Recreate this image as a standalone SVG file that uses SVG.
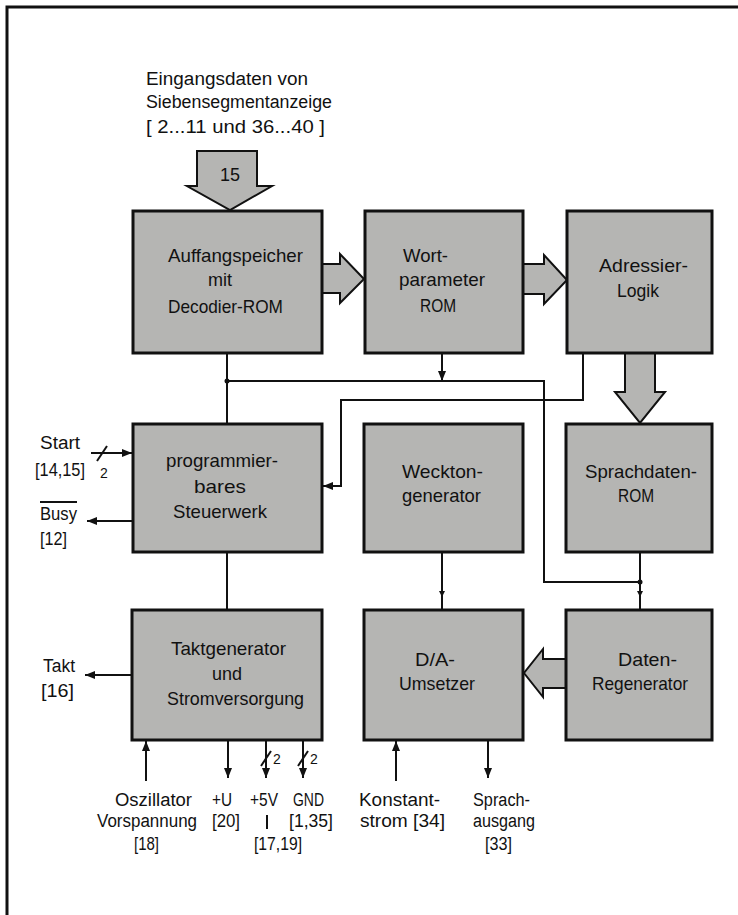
<svg xmlns="http://www.w3.org/2000/svg" width="738" height="915" viewBox="0 0 738 915">
<style>
.blk{fill:#b5b5b3;stroke:#111;stroke-width:3}
.harr{fill:#b5b5b3;stroke:#111;stroke-width:2;stroke-linejoin:miter}
.ln{fill:none;stroke:#111;stroke-width:2}
.t{font-family:"Liberation Sans",Arial,sans-serif;font-size:19px;fill:#111}
.l{font-family:"Liberation Sans",Arial,sans-serif;font-size:18px;fill:#111}
.s{font-family:"Liberation Sans",Arial,sans-serif;font-size:14px;fill:#111}
</style>
<defs>
<marker id="ah" viewBox="0 0 10 8" refX="10" refY="4" markerWidth="10" markerHeight="8" markerUnits="userSpaceOnUse" orient="auto">
<path d="M0,0 L10,4 L0,8 Z" fill="#111"/>
</marker>
<marker id="sm" viewBox="0 0 6 6" refX="6" refY="3" markerWidth="6" markerHeight="6" markerUnits="userSpaceOnUse" orient="auto">
<path d="M0,0 L6,3 L0,6 Z" fill="#111"/>
</marker>
</defs>
<rect width="738" height="915" fill="#fff"/>
<g id="border" class="ln" style="stroke-width:3">
<path d="M7,915 V7 H738"/>
</g>

<g id="input-label">
<text class="l" x="146" y="85" textLength="162" lengthAdjust="spacingAndGlyphs">Eingangsdaten von</text>
<text class="l" x="146" y="108" textLength="186" lengthAdjust="spacingAndGlyphs">Siebensegmentanzeige</text>
<text class="l" x="146" y="133" textLength="179" lengthAdjust="spacingAndGlyphs">[ 2...11 und 36...40 ]</text>
</g>

<g id="bus-arrows">
<polygon class="harr" points="197,151 257,151 257,186 272,186 230,210 187,186 197,186"/>
<text class="l" x="230" y="181" text-anchor="middle" font-size="17">15</text>
<polygon class="harr" points="322,264 340,264 340,254 364,279 340,303 340,293 322,293"/>
<polygon class="harr" points="523,264 544,264 544,255 567,280 544,304 544,294 523,294"/>
<polygon class="harr" points="625,353 655,353 655,392 665,392 640,423 615,392 625,392"/>
<polygon class="harr" points="566,659 543,659 543,649 524,673 543,697 543,688 566,688"/>
</g>

<g id="auffangspeicher">
<rect class="blk" x="133" y="211" width="189" height="142"/>
<text class="t" x="168" y="262" textLength="135" lengthAdjust="spacingAndGlyphs">Auffangspeicher</text>
<text class="t" x="208" y="286" textLength="24" lengthAdjust="spacingAndGlyphs">mit</text>
<text class="t" x="168" y="313" textLength="115" lengthAdjust="spacingAndGlyphs">Decodier-ROM</text>
</g>
<g id="wortparameter">
<rect class="blk" x="365" y="211" width="158" height="142"/>
<text class="t" x="403" y="262" textLength="45" lengthAdjust="spacingAndGlyphs">Wort-</text>
<text class="t" x="399" y="286" textLength="86" lengthAdjust="spacingAndGlyphs">parameter</text>
<text class="t" x="420" y="312" textLength="36" lengthAdjust="spacingAndGlyphs">ROM</text>
</g>
<g id="adressier">
<rect class="blk" x="567" y="211" width="145" height="142"/>
<text class="t" x="599" y="272" textLength="89" lengthAdjust="spacingAndGlyphs">Adressier-</text>
<text class="t" x="617" y="297" textLength="42" lengthAdjust="spacingAndGlyphs">Logik</text>
</g>
<g id="steuerwerk">
<rect class="blk" x="133" y="424" width="189" height="128"/>
<text class="t" x="166" y="467" textLength="112" lengthAdjust="spacingAndGlyphs">programmier-</text>
<text class="t" x="194" y="493" textLength="52" lengthAdjust="spacingAndGlyphs">bares</text>
<text class="t" x="173" y="518" textLength="94" lengthAdjust="spacingAndGlyphs">Steuerwerk</text>
</g>
<g id="weckton">
<rect class="blk" x="364" y="424" width="159" height="128"/>
<text class="t" x="402" y="478" textLength="81" lengthAdjust="spacingAndGlyphs">Weckton-</text>
<text class="t" x="402" y="502" textLength="79" lengthAdjust="spacingAndGlyphs">generator</text>
</g>
<g id="sprachdaten">
<rect class="blk" x="566" y="424" width="146" height="128"/>
<text class="t" x="585" y="478" textLength="112" lengthAdjust="spacingAndGlyphs">Sprachdaten-</text>
<text class="t" x="618" y="502" textLength="36" lengthAdjust="spacingAndGlyphs">ROM</text>
</g>
<g id="taktgenerator">
<rect class="blk" x="132" y="610" width="190" height="130"/>
<text class="t" x="171" y="655" textLength="115" lengthAdjust="spacingAndGlyphs">Taktgenerator</text>
<text class="t" x="212" y="680" textLength="30" lengthAdjust="spacingAndGlyphs">und</text>
<text class="t" x="167" y="705" textLength="137" lengthAdjust="spacingAndGlyphs">Stromversorgung</text>
</g>
<g id="da-umsetzer">
<rect class="blk" x="364" y="610" width="159" height="130"/>
<text class="t" x="415" y="666" textLength="40" lengthAdjust="spacingAndGlyphs">D/A-</text>
<text class="t" x="399" y="690" textLength="76" lengthAdjust="spacingAndGlyphs">Umsetzer</text>
</g>
<g id="datenregenerator">
<rect class="blk" x="566" y="610" width="146" height="130"/>
<text class="t" x="618" y="666" textLength="59" lengthAdjust="spacingAndGlyphs">Daten-</text>
<text class="t" x="592" y="690" textLength="96" lengthAdjust="spacingAndGlyphs">Regenerator</text>
</g>

<g id="connectors" class="ln">
<path d="M227,353 V424"/>
<path d="M442,353 V381" marker-end="url(#ah)"/>
<path d="M227,381 H544 V582 H640"/>
<path d="M640,552 V597" marker-end="url(#sm)"/>
<path d="M640,595 V610"/>
<path d="M583,353 V400 H341 V486 H323" marker-end="url(#ah)"/>
<path d="M227,552 V610"/>
<path d="M442,552 V597" marker-end="url(#sm)"/>
<path d="M442,595 V610"/>
<circle cx="227" cy="381" r="2.5" fill="#111" stroke="none"/>
<circle cx="640" cy="582" r="2.5" fill="#111" stroke="none"/>
<path d="M91,453 H132" marker-end="url(#ah)"/>
<path d="M97,461 L107,446"/>
<path d="M132,521 H87" marker-end="url(#ah)"/>
<path d="M131,675 H85" marker-end="url(#ah)"/>
<path d="M146,781 V741" marker-end="url(#ah)"/>
<path d="M228,740 V778" marker-end="url(#ah)"/>
<path d="M266,740 V778" marker-end="url(#ah)"/>
<path d="M261,766 L271,751"/>
<path d="M303,740 V778" marker-end="url(#ah)"/>
<path d="M298,766 L308,751"/>
<path d="M396,781 V741" marker-end="url(#ah)"/>
<path d="M488,740 V778" marker-end="url(#ah)"/>
<path d="M267,815 V829"/>
<path d="M40,502 H77"/>
</g>

<g id="pin-labels">
<text class="l" x="40" y="449" textLength="40" lengthAdjust="spacingAndGlyphs">Start</text>
<text class="l" x="35" y="476" textLength="50" lengthAdjust="spacingAndGlyphs">[14,15]</text>
<text class="s" x="100" y="478" font-size="15">2</text>
<text class="l" x="40" y="520" textLength="37" lengthAdjust="spacingAndGlyphs">Busy</text>
<text class="l" x="40" y="545" textLength="27" lengthAdjust="spacingAndGlyphs">[12]</text>
<text class="l" x="43" y="672" textLength="32" lengthAdjust="spacingAndGlyphs">Takt</text>
<text class="l" x="41" y="697" textLength="33" lengthAdjust="spacingAndGlyphs">[16]</text>
<text class="l" x="115" y="806" textLength="77" lengthAdjust="spacingAndGlyphs">Oszillator</text>
<text class="l" x="97" y="827" textLength="100" lengthAdjust="spacingAndGlyphs">Vorspannung</text>
<text class="l" x="134" y="850" textLength="25" lengthAdjust="spacingAndGlyphs">[18]</text>
<text class="l" x="212" y="806" textLength="20" lengthAdjust="spacingAndGlyphs">+U</text>
<text class="l" x="212" y="827" textLength="28" lengthAdjust="spacingAndGlyphs">[20]</text>
<text class="l" x="250" y="806" textLength="28" lengthAdjust="spacingAndGlyphs">+5V</text>
<text class="s" x="273" y="764">2</text>
<text class="l" x="254" y="850" textLength="48" lengthAdjust="spacingAndGlyphs">[17,19]</text>
<text class="l" x="293" y="806" textLength="31" lengthAdjust="spacingAndGlyphs">GND</text>
<text class="s" x="310" y="764">2</text>
<text class="l" x="289" y="827" textLength="44" lengthAdjust="spacingAndGlyphs">[1,35]</text>
<text class="l" x="359" y="806" textLength="81" lengthAdjust="spacingAndGlyphs">Konstant-</text>
<text class="l" x="360" y="827" textLength="85" lengthAdjust="spacingAndGlyphs">strom [34]</text>
<text class="l" x="473" y="806" textLength="57" lengthAdjust="spacingAndGlyphs">Sprach-</text>
<text class="l" x="473" y="827" textLength="62" lengthAdjust="spacingAndGlyphs">ausgang</text>
<text class="l" x="485" y="850" textLength="27" lengthAdjust="spacingAndGlyphs">[33]</text>
</g>
</svg>
